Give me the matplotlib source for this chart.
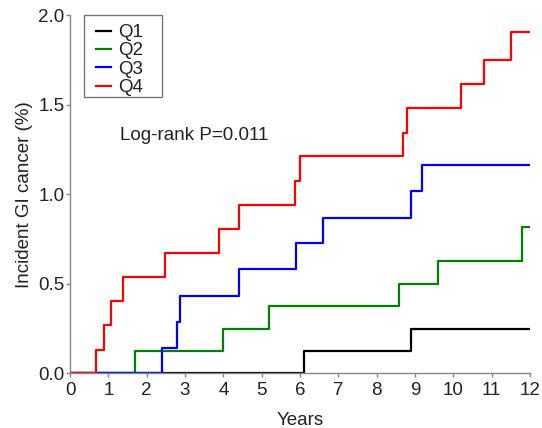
import matplotlib
matplotlib.use("Agg")
import matplotlib.pyplot as plt
from matplotlib.patches import Rectangle

plt.rcParams['font.family'] = ['Liberation Sans', 'DejaVu Sans']

groups = ["Q1", "Q2", "Q3", "Q4"]
colors = ["#000000", "#008000", "#0000ff", "#ff0000"]

q1_t = [0, 6.1, 8.9, 12]
q1_y = [0, 0.123, 0.247, 0.247]
q2_t = [0, 1.7, 4.0, 5.2, 8.59, 9.6, 11.8, 12]
q2_y = [0, 0.123, 0.249, 0.376, 0.50, 0.629, 0.816, 0.816]
q3_t = [0, 2.39, 2.78, 2.88, 4.4, 5.9, 6.6, 8.9, 9.19, 12]
q3_y = [0, 0.143, 0.287, 0.434, 0.581, 0.726, 0.869, 1.017, 1.162, 1.162]
q4_t = [0, 0.69, 0.89, 1.08, 1.38, 2.48, 3.9, 4.4, 5.88, 5.99, 8.70, 8.80, 10.19, 10.80, 11.50, 12]
q4_y = [0, 0.132, 0.268, 0.402, 0.536, 0.672, 0.806, 0.942, 1.074, 1.212, 1.344, 1.480, 1.614, 1.750, 1.905, 1.905]

series = [(q1_t, q1_y), (q2_t, q2_y), (q3_t, q3_y), (q4_t, q4_y)]

x_ticks = list(range(0, 13))
y_ticks = [0.0, 0.5, 1.0, 1.5, 2.0]
y_tick_labels = ["0.0", "0.5", "1.0", "1.5", "2.0"]

W, H = 542, 428
fig = plt.figure(figsize=(W / 100, H / 100), dpi=100)
ax = fig.add_axes([70 / W, (H - 373.3) / H, (530 - 70) / W, (373.3 - 15) / H])

for (t, y), c, g in zip(series, colors, groups):
    ax.step(t, y, where="post", color=c, lw=1.6, label=g)

ax.set_xlim(0, 12)
ax.set_ylim(0, 2.0)
ax.set_xticks(x_ticks)
ax.set_yticks(y_ticks)
ax.set_yticklabels(y_tick_labels)

for s in ["top", "right"]:
    ax.spines[s].set_visible(False)
for s in ["left", "bottom"]:
    ax.spines[s].set_color("#888888")
    ax.spines[s].set_linewidth(1.0)
ax.tick_params(axis="both", direction="out", length=3, width=1.0, color="#888888",
               labelsize=13.5, labelcolor="#222222")
ax.tick_params(axis="x", pad=3.5)
ax.tick_params(axis="y", pad=0.8)

ax.set_xlabel("Years", fontsize=13.5, color="#222222", labelpad=9)
ax.set_ylabel("Incident GI cancer (%)", fontsize=13.5, color="#222222", labelpad=4)

leg = ax.legend(loc="upper left", bbox_to_anchor=(95.7 / W, (H - 24) / H),
                bbox_transform=fig.transFigure, fontsize=13.5,
                frameon=False, handlelength=0.8, handletextpad=0.39,
                labelspacing=0.065, borderpad=0.0, borderaxespad=0.0)
for txt in leg.get_texts():
    txt.set_color("#222222")

fig.patches.append(Rectangle((84 / W, (H - 97.3) / H), 78 / W, 82.3 / H,
                             transform=fig.transFigure, fill=False,
                             edgecolor="#777777", linewidth=1.0))

ax.text(1.31, 1.326, "Log-rank P=0.011", fontsize=13.5, color="#222222",
        ha="left", va="center")

fig.savefig("out.png", dpi=100)
